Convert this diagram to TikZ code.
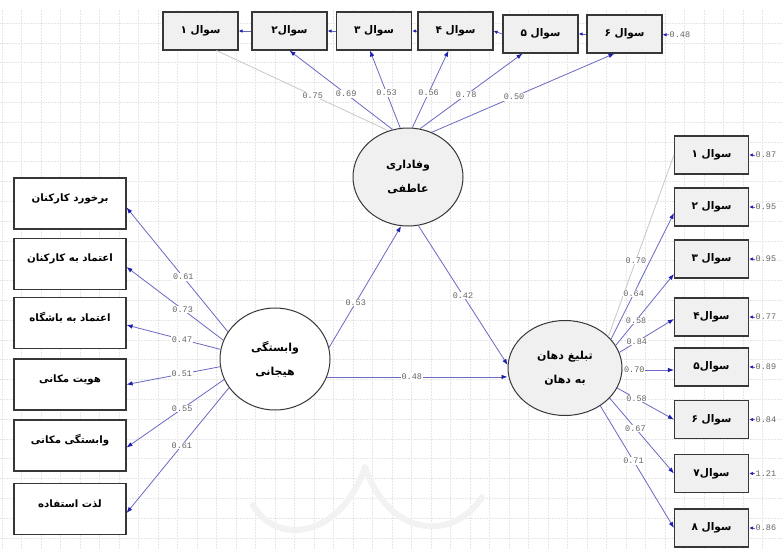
\documentclass[tikz,border=0pt]{standalone}
\usepackage{fontspec}
\newfontfamily\fa[Script=Arabic]{DejaVu Sans}
\newfontfamily\mono{Liberation Mono}
\TeXXeTstate=1
\usetikzlibrary{arrows.meta,calc,shapes.geometric}
\definecolor{ln}{RGB}{105,105,195}
\definecolor{hd}{RGB}{30,30,175}
\definecolor{bd}{RGB}{55,55,55}
\definecolor{bx}{RGB}{240,240,240}
\definecolor{gl}{RGB}{200,200,200}
\definecolor{gridc}{RGB}{230,230,230}
\definecolor{labc}{RGB}{100,100,100}
\begin{document}
\begin{tikzpicture}[x=1pt,y=-1pt,
  qbox/.style={draw=bd,line width=1.1pt,fill=bx,minimum width=75pt,minimum height=38pt,inner sep=0pt,font=\fa\bfseries\fontsize{10.5}{12}\selectfont},
  lbox/.style={draw=bd,line width=1.1pt,fill=white,minimum width=112pt,minimum height=51pt,inner sep=0pt},
  ltxt/.style={font=\fa\bfseries\fontsize{10.2}{12}\selectfont,yshift=5pt,inner sep=0pt},
  lat/.style={shape=ellipse,draw=bd,line width=1pt,inner sep=0pt,align=center,font=\fa\bfseries\fontsize{11}{13}\selectfont},
  lab/.style={font=\mono\fontsize{8.5}{9}\selectfont,text=labc,fill=white,inner sep=0.8pt},
  elab/.style={font=\mono\fontsize{8.5}{9}\selectfont,text=labc,inner sep=0.5pt},
  arr/.style={draw=ln,line width=0.8pt,-{Latex[length=6pt,width=4.5pt,color=hd]}},
  gline/.style={draw=gl,line width=0.8pt},
  err/.style={draw=ln,line width=0.8pt,-{Latex[length=4pt,width=3.5pt,color=hd]}}]
\useasboundingbox (0,0) rectangle (782,549);
\fill[white] (0,0) rectangle (782,549);
% background grid
\foreach \i in {0,...,40} {\draw[gridc,line width=0.5pt,dash pattern=on 1.5pt off 1.5pt] (2+19.5*\i,10) -- (2+19.5*\i,549);}
\foreach \j in {0,...,27} {\draw[gridc,line width=0.5pt,dash pattern=on 1.5pt off 1.5pt] (0,23+19.8*\j) -- (782,23+19.8*\j);}
% watermark
\draw[gray!10,line width=6pt,line cap=round] (253,505) .. controls (275,545) and (340,540) .. (365,467);
\draw[gray!10,line width=6pt,line cap=round] (365,467) .. controls (390,540) and (455,540) .. (482,497);
% latent variables
\node[lat,fill=bx,minimum width=110pt,minimum height=98pt] (wa) at (408,177) {\beginR وفاداری\endR\\[11pt]\beginR عاطفی\endR};
\node[lat,fill=white,minimum width=110pt,minimum height=102pt] (vh) at (275,359) {\beginR وابستگی\endR\\[11pt]\beginR هیجانی\endR};
\node[lat,fill=bx,minimum width=114pt,minimum height=95pt] (wom) at (565,368) {\beginR تبلیغ دهان\endR\\[11pt]\beginR به دهان\endR};
% top indicators
\node[qbox] (t1) at (200.5,31) {\beginR سوال ۱\endR};
\node[qbox] (t2) at (289.5,31) {\beginR سوال۲\endR};
\node[qbox] (t3) at (374,31) {\beginR سوال ۳\endR};
\node[qbox] (t4) at (455.5,31) {\beginR سوال ۴\endR};
\node[qbox] (t5) at (540.5,34) {\beginR سوال ۵\endR};
\node[qbox] (t6) at (624.5,34) {\beginR سوال ۶\endR};
% left indicators
\node[lbox,label={[ltxt]center:\beginR برخورد کارکنان\endR}] (l1) at (70,203.5) {};
\node[lbox,label={[ltxt]center:\beginR اعتماد به کارکنان\endR}] (l2) at (70,264) {};
\node[lbox,label={[ltxt]center:\beginR اعتماد به باشگاه\endR}] (l3) at (70,323) {};
\node[lbox,label={[ltxt]center:\beginR هویت مکانی\endR}] (l4) at (70,384.5) {};
\node[lbox,label={[ltxt]center:\beginR وابستگی مکانی\endR}] (l5) at (70,445.5) {};
\node[lbox,label={[ltxt]center:\beginR لذت استفاده\endR}] (l6) at (70,509) {};
% right indicators
\node[qbox,minimum width=74pt] (r1) at (711.5,155) {\beginR سوال ۱\endR};
\node[qbox,minimum width=74pt] (r2) at (711.5,207) {\beginR سوال ۲\endR};
\node[qbox,minimum width=74pt] (r3) at (711.5,259) {\beginR سوال ۳\endR};
\node[qbox,minimum width=74pt] (r4) at (711.5,317) {\beginR سوال۴\endR};
\node[qbox,minimum width=74pt] (r5) at (711.5,367) {\beginR سوال۵\endR};
\node[qbox,minimum width=74pt] (r6) at (711.5,419.5) {\beginR سوال ۶\endR};
\node[qbox,minimum width=74pt] (r7) at (711.5,473.5) {\beginR سوال۷\endR};
\node[qbox,minimum width=74pt] (r8) at (711.5,528) {\beginR سوال ۸\endR};
% error terms
\node[elab,anchor=west] (e6) at (669,35) {0.48};
\node[elab,anchor=west] (f1) at (755,155) {0.87};
\node[elab,anchor=west] (f2) at (755,207) {0.95};
\node[elab,anchor=west] (f3) at (755,259) {0.95};
\node[elab,anchor=west] (f4) at (755,317) {0.77};
\node[elab,anchor=west] (f5) at (755,367) {0.89};
\node[elab,anchor=west] (f6) at (755,419.5) {0.84};
\node[elab,anchor=west] (f7) at (755,473.5) {1.21};
\node[elab,anchor=west] (f8) at (755,528) {0.86};
\draw[err] (t2.west) -- (t1.east);
\draw[err] (t3.west) -- (t2.east);
\draw[err] (t4.west) -- (t3.east);
\draw[err] (t5.west) -- (t4.east);
\draw[err] (t6.west) -- (t5.east);
\draw[err] (e6) -- (t6);
\foreach \k in {1,...,8} {\draw[err] (f\k) -- (r\k);}
% loadings on وفاداری عاطفی
\draw[gline] (wa.113) -- ([xshift=16pt]t1.south) node[lab,pos=0.44]{0.75};
\draw[arr] (wa.108) -- (t2.south) node[lab,pos=0.45]{0.69};
\draw[arr] (wa.99) -- ([xshift=-4pt]t3.south) node[lab,pos=0.45]{0.53};
\draw[arr] (wa.85) -- ([xshift=-7pt]t4.south) node[lab,pos=0.45]{0.56};
\draw[arr] (wa.76) -- ([xshift=-18pt]t5.south) node[lab,pos=0.45]{0.78};
\draw[arr] (wa.62) -- ([xshift=-10pt]t6.south) node[lab,pos=0.45]{0.50};
% loadings on وابستگی هیجانی
\draw[arr] (vh.150) -- ([yshift=-4pt]l1.east) node[lab,pos=0.44]{0.61};
\draw[arr] (vh.160) -- ([yshift=-3pt]l2.east) node[lab,pos=0.42]{0.73};
\draw[arr] (vh.170) -- ([yshift=-2pt]l3.east) node[lab,pos=0.41]{0.47};
\draw[arr] (vh.188) -- (l4.east) node[lab,pos=0.41]{0.51};
\draw[arr] (vh.202) -- ([yshift=-2pt]l5.east) node[lab,pos=0.43]{0.55};
\draw[arr] (vh.212) -- ([yshift=-4pt]l6.east) node[lab,pos=0.46]{0.61};
% loadings on تبلیغ دهان به دهان
\draw[gline] (wom.36) -- (r1.west) node[lab,pos=0.42]{0.70};
\draw[arr] (wom.32) -- ([yshift=-6pt]r2.west) node[lab,pos=0.36]{0.64};
\draw[arr] (wom.24) -- ([yshift=-15pt]r3.west) node[lab,pos=0.35]{0.58};
\draw[arr] (wom.16) -- ([yshift=-2pt]r4.west) node[lab,pos=0.32]{0.84};
\draw[arr] (wom.-2) -- (wom.-2 -| r5.west) node[lab,pos=0.23]{0.70};
\draw[arr] (wom.-21) -- (r6.west) node[lab,pos=0.34]{0.58};
\draw[arr] (wom.-34) -- (r7.west) node[lab,pos=0.4]{0.67};
\draw[arr] (wom.-47) -- (r8.west) node[lab,pos=0.45]{0.71};
% structural paths
\draw[arr] (vh.12) -- (wa.262) node[lab,pos=0.37]{0.53};
\draw[arr] (wa.-78) -- (wom.177) node[lab,pos=0.5]{0.42};
\draw[arr] (vh.-19) -- (vh.-19 -| wom.west) node[lab,pos=0.47]{0.48};
\end{tikzpicture}
\end{document}
